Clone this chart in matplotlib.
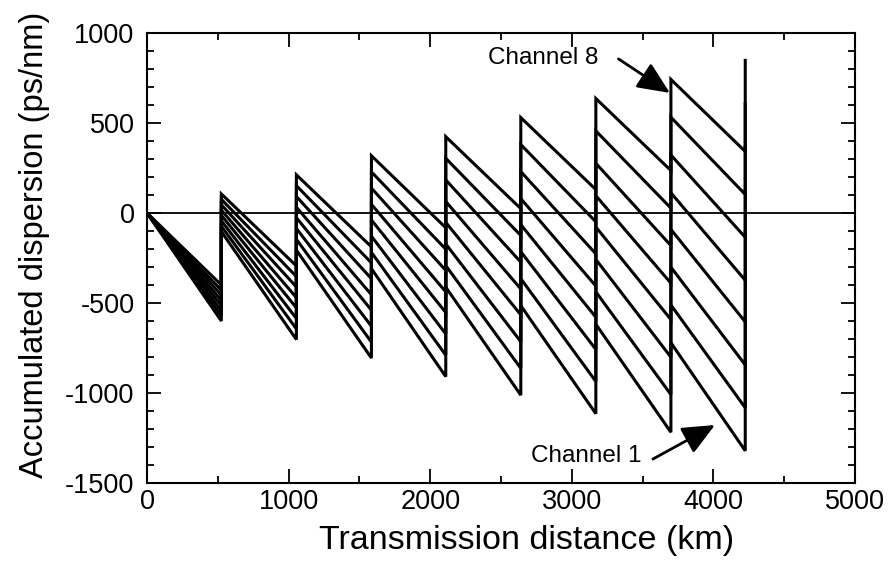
import matplotlib
matplotlib.use("Agg")
import matplotlib.pyplot as plt
from matplotlib.ticker import MultipleLocator

plt.rcParams['font.family'] = ['Liberation Sans', 'DejaVu Sans']
plt.rcParams['axes.unicode_minus'] = False

# Amplifier-span boundaries along the link (km)
span_edges = [0, 525, 1055, 1585, 2110, 2640, 3170, 3700, 4225]

# Accumulated dispersion at the start of each span (after compensation), per channel
span_start = {
    "Channel 1": [0, -103, -206, -309, -412, -515, -618, -721, -824],
    "Channel 2": [0, -73, -146, -219, -292, -365, -438, -511, -584],
    "Channel 3": [0, -43, -86, -129, -172, -215, -258, -301, -344],
    "Channel 4": [0, -13, -26, -39, -52, -65, -78, -91, -104],
    "Channel 5": [0, 16, 32, 48, 64, 80, 96, 112, 128],
    "Channel 6": [0, 46, 92, 138, 184, 230, 276, 322, 368],
    "Channel 7": [0, 76, 152, 228, 304, 380, 456, 532, 608],
    "Channel 8": [0, 106, 212, 318, 424, 530, 636, 742, 848],
}

# Accumulated dispersion at the end of each span (before compensation), per channel
span_end = {
    "Channel 1": [-600, -703, -806, -909, -1012, -1115, -1218, -1321],
    "Channel 2": [-571, -644, -717, -790, -863, -936, -1009, -1082],
    "Channel 3": [-543, -586, -629, -672, -715, -758, -801, -844],
    "Channel 4": [-514, -527, -540, -553, -566, -579, -592, -605],
    "Channel 5": [-486, -470, -454, -438, -422, -406, -390, -374],
    "Channel 6": [-457, -411, -365, -319, -273, -227, -181, -135],
    "Channel 7": [-429, -353, -277, -201, -125, -49, 27, 103],
    "Channel 8": [-400, -294, -188, -82, 24, 130, 236, 342],
}

fig = plt.figure(figsize=(8.92, 5.73), dpi=100)
ax = fig.add_axes([0.1648, 0.1571, 0.7937, 0.7853])

for name in span_start:
    starts = span_start[name]
    ends = span_end[name]
    xs, ys = [], []
    for k in range(len(ends)):
        xs += [span_edges[k], span_edges[k + 1]]
        ys += [starts[k], ends[k]]
    xs.append(span_edges[-1])
    ys.append(starts[-1])
    ax.plot(xs, ys, color='black', lw=2.2, solid_joinstyle='miter')

ax.axhline(0, color='black', lw=1.3, zorder=1)

ax.set_xlim(0, 5000)
ax.set_ylim(-1500, 1000)
ax.xaxis.set_major_locator(MultipleLocator(1000))
ax.xaxis.set_minor_locator(MultipleLocator(500))
ax.yaxis.set_major_locator(MultipleLocator(500))
ax.yaxis.set_minor_locator(MultipleLocator(100))

ax.tick_params(which='both', direction='in', top=True, right=True, width=1.3,
               colors='black')
ax.tick_params(which='major', length=10, labelsize=19.5)
ax.tick_params(axis='y', which='major', pad=9)
ax.tick_params(axis='x', which='major', pad=4)
ax.tick_params(which='minor', length=5)
for sp in ax.spines.values():
    sp.set_linewidth(1.5)

ax.set_xlabel('Transmission distance (km)', fontsize=24.5)
ax.set_ylabel('Accumulated dispersion (ps/nm)', fontsize=23.5)
ax.xaxis.set_label_coords(0.536, -0.093)
ax.yaxis.set_label_coords(-0.137, 0.53)

arrow = dict(arrowstyle='-|>,head_length=0.9,head_width=0.4', color='black',
             lw=2, mutation_scale=22, shrinkA=0, shrinkB=0)
ax.text(2797, 861, 'Channel 8', fontsize=17.5, ha='center', va='center')
ax.annotate('', xy=(3693, 667), xytext=(3330, 856), arrowprops=arrow)
ax.text(3100, -1350, 'Channel 1', fontsize=17.5, ha='center', va='center')
ax.annotate('', xy=(4011, -1178), xytext=(3573, -1367), arrowprops=arrow)

fig.savefig('out.png', dpi=100)
